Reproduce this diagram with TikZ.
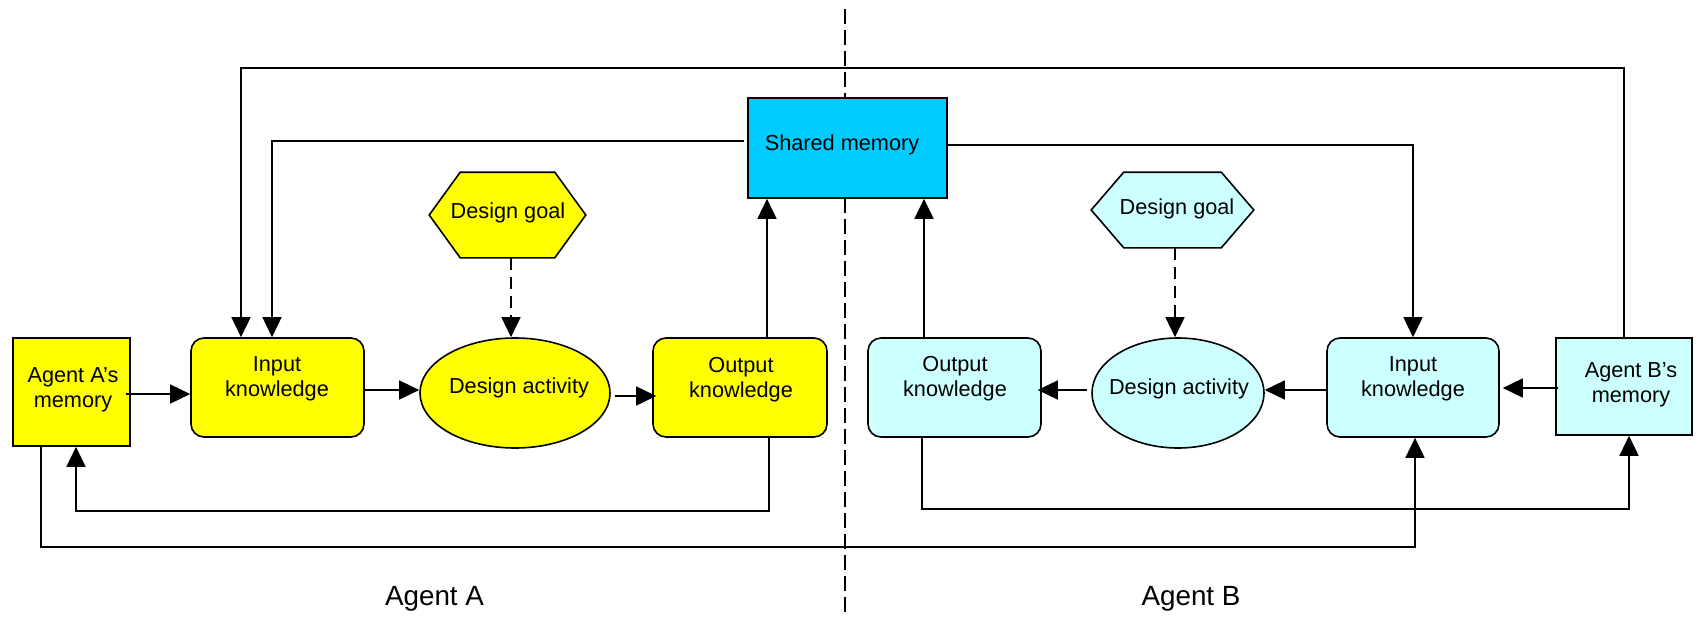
\documentclass[tikz,border=0pt]{standalone}
\usepackage{fontspec}
\setmainfont{Liberation Sans}
\usetikzlibrary{arrows.meta,shapes.geometric}
\definecolor{yel}{HTML}{FFFF00}
\definecolor{cyanA}{HTML}{00CCFF}
\definecolor{cyanL}{HTML}{CCFFFF}
\begin{document}
\begin{tikzpicture}[x=1pt,y=-1pt,line width=1.6pt,
  every node/.style={font=\fontsize{21.7}{25}\selectfont,align=center,inner sep=0pt},
  sqbox/.style={draw,rectangle},
  kbox/.style={draw,rectangle,rounded corners=13pt},
  act/.style={draw,ellipse},
  goal/.style={rectangle},
  arr/.style={-{Triangle[length=20pt,width=19pt]}},
  dasharr/.style={arr,dash pattern=on 12pt off 7pt},
  divider/.style={dash pattern=on 15pt off 6pt},
  big/.style={font=\fontsize{27.8}{32}\selectfont}]
\useasboundingbox (0,0) rectangle (1702,616);
% divider (behind everything)
\coordinate (divtop) at (845,9);
\coordinate (divbot) at (845,614);
\draw[divider] (divtop) -- (divbot);
% shapes
\node[sqbox,fill=yel,minimum width=117pt,minimum height=108pt] (agA) at (71.5,392) {};
\node[kbox,fill=yel,minimum width=173pt,minimum height=99pt] (inA) at (277.5,387.5) {};
\node[act,fill=yel,minimum width=190pt,minimum height=110pt] (daA) at (515,393) {};
\node[kbox,fill=yel,minimum width=174pt,minimum height=99pt] (outA) at (740,387.5) {};
\node[sqbox,fill=cyanA,minimum width=199pt,minimum height=100pt] (shared) at (847.5,148) {};
\node[kbox,fill=cyanL,minimum width=173pt,minimum height=99pt] (outB) at (954.5,387.5) {};
\node[act,fill=cyanL,minimum width=172pt,minimum height=110pt] (daB) at (1178,393) {};
\node[kbox,fill=cyanL,minimum width=172pt,minimum height=99pt] (inB) at (1413,387.5) {};
\node[sqbox,fill=cyanL,minimum width=136pt,minimum height=97pt] (agB) at (1624,386.5) {};
\node[goal,minimum width=155pt,minimum height=84pt] (gA) at (507.5,215) {};
\node[goal,minimum width=161pt,minimum height=74pt] (gB) at (1172.5,210) {};
\draw[fill=yel] (gA.west) -- ([xshift=31pt]gA.north west) -- ([xshift=-31pt]gA.north east)
  -- (gA.east) -- ([xshift=-31pt]gA.south east) -- ([xshift=31pt]gA.south west) -- cycle;
\draw[fill=cyanL] (gB.west) -- ([xshift=32.5pt]gB.north west) -- ([xshift=-32.5pt]gB.north east)
  -- (gB.east) -- ([xshift=-32.5pt]gB.south east) -- ([xshift=32.5pt]gB.south west) -- cycle;
% texts
\node (tagA) at (73,390) {Agent A’s\\memory};
\node (tinA) at (277,379) {Input\\knowledge};
\node (tdaA) at (519,388) {Design activity};
\node (toutA) at (741,380) {Output\\knowledge};
\node (tshared) at (842,145) {Shared memory};
\node (tgA) at (508,212.5) {Design goal};
\node (tgB) at (1177,209) {Design goal};
\node (tdaB) at (1179,389) {Design activity};
\node (toutB) at (955,379) {Output\\knowledge};
\node (tinB) at (1413,379) {Input\\knowledge};
\node (tagB) at (1631,385) {Agent B’s\\memory};
\node[big] (labA) at (434.5,599) {Agent A};
\node[big] (labB) at (1191,599) {Agent B};
% agent A flow
\draw[arr] ([xshift=-5pt,yshift=-2pt]agA.east) -- ([yshift=-2pt]agA.east -| inA.west);
\draw[arr] ([yshift=-2.5pt]inA.east) -- ([yshift=-2.5pt]inA.east -| daA.west);
\draw[arr] ([xshift=4pt,yshift=-3pt]daA.east) -- ([xshift=4pt,yshift=-3pt]daA.east -| outA.west);
\draw[arr] ([xshift=27pt]outA.north) -- ([xshift=27pt]outA.north |- shared.south);
\draw[dasharr] ([xshift=3.5pt]gA.south) -- ([xshift=3.5pt]gA.south |- daA.north);
% agent B flow
\draw[arr] ([xshift=3pt,yshift=-1.5pt]agB.west) -- ([xshift=3pt,yshift=-1.5pt]agB.west -| inB.east);
\draw[arr] ([yshift=-2.5pt]inB.west) -- ([yshift=-2.5pt]inB.west -| daB.east);
\draw[arr] ([xshift=-4pt,yshift=3pt]daB.west) -- ([xshift=-4pt,yshift=3pt]daB.west -| outB.east);
\draw[arr] ([xshift=-30.5pt]outB.north) -- ([xshift=-30.5pt]outB.north |- shared.south);
\draw[dasharr] ([xshift=2.5pt]gB.south) -- ([xshift=2.5pt]gB.south |- daB.north);
% shared memory links
\draw[arr] ([xshift=-3pt,yshift=7pt]shared.west) -| ([xshift=-5.5pt]inA.north);
\draw[arr] ([yshift=3pt]shared.east) -| (inB.north);
\draw[arr] (agB.north) -- ++(0,-269) -| ([xshift=-36.5pt]inA.north);
% bottom loops
\draw[arr] ([xshift=29pt]outA.south) -- ++(0,73) -| ([xshift=4.5pt]agA.south);
\draw[arr] ([xshift=-30.5pt]agA.south) -- ++(0,100) -| ([xshift=2pt]inB.south);
\draw[arr] ([xshift=-32.5pt]outB.south) -- ++(0,71) -| ([xshift=5pt]agB.south);
\end{tikzpicture}
\end{document}
